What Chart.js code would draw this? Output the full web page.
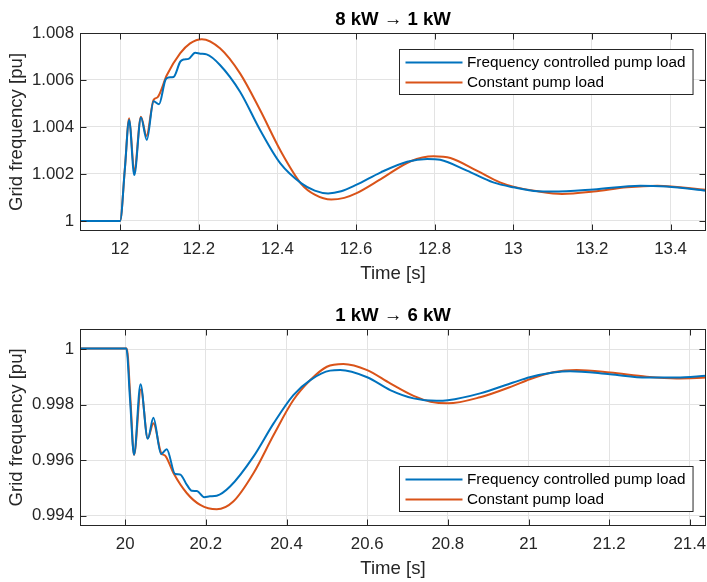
<!DOCTYPE html>
<html>
<head>
<meta charset="utf-8">
<script src="https://cdn.jsdelivr.net/npm/chart.js@4/dist/chart.umd.min.js"></script>
<style>
  body { margin: 0; background: #fff; width: 707px; height: 582px; overflow: hidden; position: relative; }
  canvas { position: absolute; left: 0; }
</style>
</head>
<body>
<canvas id="topChart" width="707" height="296" style="top:0"></canvas>
<canvas id="botChart" width="707" height="286" style="top:296px"></canvas>
<script>
// --- data ---
const seriesNames = ['Frequency controlled pump load', 'Constant pump load'];

// 8 kW -> 1 kW
const topTimeVfd = [11.9, 12.0, 12.012, 12.023, 12.036, 12.053, 12.068, 12.085, 12.099, 12.115, 12.123, 12.136, 12.153, 12.161, 12.174, 12.191, 12.204, 12.22, 12.254, 12.305, 12.356, 12.407, 12.461, 12.495, 12.529, 12.562, 12.6, 12.663, 12.73, 12.781, 12.814, 12.882, 12.949, 13.0, 13.062, 13.1, 13.204, 13.323, 13.39, 13.493];
const topFreqVfd = [1.0, 1.0, 1.0022, 1.0043, 1.00195, 1.0044, 1.00345, 1.0051, 1.00497, 1.0060, 1.00611, 1.00613, 1.00678, 1.00687, 1.0069, 1.00716, 1.00712, 1.00709, 1.00664, 1.0055, 1.00387, 1.00246, 1.0016, 1.00129, 1.00117, 1.00126, 1.00153, 1.00207, 1.00252, 1.00264, 1.0026, 1.00214, 1.00164, 1.00143, 1.00126, 1.00125, 1.00134, 1.0015, 1.00146, 1.00128];
const topTimeConst = [11.9, 12.0, 12.012, 12.023, 12.036, 12.053, 12.067, 12.085, 12.095, 12.119, 12.153, 12.178, 12.208, 12.254, 12.305, 12.356, 12.407, 12.461, 12.495, 12.537, 12.57, 12.6, 12.663, 12.739, 12.797, 12.84, 12.907, 12.966, 13.0, 13.062, 13.124, 13.204, 13.289, 13.366, 13.493];
const topFreqConst = [1.0, 1.0, 1.0022, 1.00437, 1.0021, 1.00444, 1.00362, 1.00515, 1.00526, 1.00621, 1.00714, 1.00756, 1.00774, 1.00735, 1.00628, 1.00472, 1.00302, 1.00157, 1.00112, 1.00091, 1.00098, 1.00117, 1.00178, 1.00254, 1.00275, 1.00268, 1.00214, 1.00164, 1.00146, 1.00126, 1.00115, 1.00125, 1.00143, 1.0015, 1.00132];
const topXTicks = [12, 12.2, 12.4, 12.6, 12.8, 13, 13.2, 13.4];
const topYTicks = [1, 1.002, 1.004, 1.006, 1.008];

// 1 kW -> 6 kW
const botTimeVfd = [19.88, 20.0, 20.003, 20.012, 20.022, 20.038, 20.056, 20.07, 20.089, 20.103, 20.124, 20.136, 20.153, 20.165, 20.178, 20.196, 20.21, 20.227, 20.26, 20.318, 20.368, 20.417, 20.459, 20.508, 20.533, 20.6, 20.657, 20.715, 20.772, 20.8, 20.88, 20.962, 21.003, 21.061, 21.103, 21.202, 21.293, 21.367, 21.442];
const botFreqVfd = [1.00003, 1.00003, 1.00003, 0.9982, 0.9962, 0.99874, 0.99677, 0.99753, 0.99622, 0.9964, 0.9955, 0.99549, 0.99511, 0.9949, 0.99489, 0.99467, 0.9947, 0.99472, 0.99505, 0.99613, 0.99733, 0.99835, 0.99889, 0.99923, 0.99925, 0.99899, 0.99853, 0.99823, 0.99814, 0.99816, 0.99841, 0.9988, 0.99899, 0.99916, 0.99921, 0.9991, 0.99898, 0.99898, 0.99905];
const botTimeConst = [19.88, 20.0, 20.004, 20.013, 20.022, 20.039, 20.056, 20.07, 20.089, 20.1, 20.12, 20.153, 20.186, 20.227, 20.268, 20.318, 20.368, 20.417, 20.459, 20.5, 20.541, 20.6, 20.657, 20.715, 20.757, 20.8, 20.88, 20.962, 21.003, 21.061, 21.119, 21.202, 21.293, 21.367, 21.442];
const botFreqConst = [1.00003, 1.00003, 1.00003, 0.9982, 0.99619, 0.99856, 0.99679, 0.99733, 0.99627, 0.99615, 0.99553, 0.99481, 0.99439, 0.99423, 0.99451, 0.99553, 0.99691, 0.99817, 0.99889, 0.99937, 0.99947, 0.99925, 0.99877, 0.99832, 0.99811, 0.99805, 0.99827, 0.99868, 0.99892, 0.99917, 0.99925, 0.99916, 0.99901, 0.99895, 0.99898];
const botXTicks = [20, 20.2, 20.4, 20.6, 20.8, 21, 21.2, 21.4];
const botYTicks = [0.994, 0.996, 0.998, 1];

const BLUE = '#0072BD', ORANGE = '#D95319';
const AX = '#262626', GRID = '#e3e3e3';
const FONT = '"Liberation Sans", Arial, Helvetica, sans-serif';
const TICK_SIZE = 16.8, LABEL_SIZE = 18.6, LEGEND_SIZE = 15.3;

Chart.defaults.font.family = FONT;
Chart.defaults.font.size = TICK_SIZE;
Chart.defaults.color = AX;

const toXY = (xs, ys) => xs.map((t, i) => ({ x: t, y: ys[i] }));

// box round the axes + inward tick marks (matlab look)
const axesFrame = {
  id: 'axesFrame',
  afterDatasetsDraw(chart) {
    const { ctx, chartArea: a, scales: { x, y } } = chart;
    const L = Math.round(a.left) + 0.5, R = Math.round(a.right) - 0.5;
    const T = Math.round(a.top) + 0.5, B = Math.round(a.bottom) - 0.5;
    ctx.save();
    ctx.strokeStyle = AX;
    ctx.lineWidth = 1;
    ctx.beginPath();
    x.ticks.forEach(t => {
      const px = Math.round(x.getPixelForValue(t.value)) + 0.5;
      ctx.moveTo(px, B); ctx.lineTo(px, B - 6);
      ctx.moveTo(px, T); ctx.lineTo(px, T + 6);
    });
    y.ticks.forEach(t => {
      const py = Math.round(y.getPixelForValue(t.value)) + 0.5;
      ctx.moveTo(L, py); ctx.lineTo(L + 6, py);
      ctx.moveTo(R, py); ctx.lineTo(R - 6, py);
    });
    ctx.stroke();
    ctx.strokeRect(L, T, R - L, B - T);
    ctx.restore();
  }
};

// legend box inside the axes
const boxLegend = {
  id: 'boxLegend',
  afterDraw(chart, args, opts) {
    const { ctx, chartArea: a } = chart;
    const ds = chart.data.datasets;
    ctx.save();
    ctx.font = LEGEND_SIZE + 'px ' + FONT;
    const tw = Math.max(...ds.map(d => ctx.measureText(d.label).width));
    const w = 6 + 57 + 4.5 + tw + 7.5, h = 45;
    const x0 = Math.round(a.right - 13 - w) + 0.5;
    const y0 = Math.round(opts.corner === 'top' ? a.top + 16 : a.bottom - 15 - h) + 0.5;
    ctx.fillStyle = '#fff';
    ctx.fillRect(x0, y0, w, h);
    ctx.strokeStyle = AX;
    ctx.lineWidth = 1;
    ctx.strokeRect(x0, y0, w, h);
    ds.forEach((d, i) => {
      const cy = y0 + 13 + i * 20;
      ctx.strokeStyle = d.borderColor;
      ctx.lineWidth = 2;
      ctx.beginPath();
      ctx.moveTo(x0 + 6, cy); ctx.lineTo(x0 + 63, cy);
      ctx.stroke();
      ctx.fillStyle = '#000';
      ctx.textBaseline = 'middle';
      ctx.fillText(d.label, x0 + 67.5, cy + 0.5);
    });
    ctx.restore();
  }
};

function makeChart(id, title, vfd, cst, xr, yr, xTicks, yTicks, padBottom) {
  const el = document.getElementById(id);
  return new Chart(el, {
    type: 'line',
    data: {
      datasets: [
        { label: seriesNames[0], data: vfd, borderColor: BLUE, borderWidth: 2, pointRadius: 0, cubicInterpolationMode: 'monotone' },
        { label: seriesNames[1], data: cst, borderColor: ORANGE, borderWidth: 2, pointRadius: 0, cubicInterpolationMode: 'monotone' }
      ]
    },
    options: {
      responsive: false,
      animation: false,
      layout: { padding: { left: 0, right: 1, top: 0, bottom: padBottom } },
      plugins: {
        legend: { display: false },
        tooltip: { enabled: false },
        title: { display: true, text: title, fullSize: false, color: '#000', font: { weight: 'bold', size: LABEL_SIZE }, padding: { top: 8.6, bottom: 2.1 } },
        boxLegend: { corner: id === 'topChart' ? 'top' : 'bottom' }
      },
      scales: {
        x: {
          type: 'linear', min: xr[0], max: xr[1],
          afterBuildTicks: s => { s.ticks = xTicks.map(v => ({ value: v })); },
          afterFit: s => { s.height = 54.2; s.paddingLeft = 0; s.paddingRight = 0; },
          ticks: { padding: 8.4, maxRotation: 0, autoSkip: false, callback: v => String(+v.toFixed(1)) },
          grid: { color: GRID, drawTicks: false },
          border: { display: false },
          title: { display: true, text: 'Time [s]', color: AX, font: { size: LABEL_SIZE }, padding: { top: 0, bottom: 0 } }
        },
        y: {
          type: 'linear', min: yr[0], max: yr[1],
          afterBuildTicks: s => { s.ticks = yTicks.map(v => ({ value: v })); },
          afterFit: s => { s.width = 80; },
          ticks: { padding: 6, autoSkip: false, callback: v => String(+v.toFixed(3)) },
          grid: { color: GRID, drawTicks: false },
          border: { display: false },
          title: { display: true, text: 'Grid frequency [pu]', color: AX, font: { size: LABEL_SIZE }, padding: { top: 6, bottom: 0 } }
        }
      }
    },
    plugins: [axesFrame, boxLegend]
  });
}

makeChart('topChart', '8 kW \u2192 1 kW', toXY(topTimeVfd, topFreqVfd), toXY(topTimeConst, topFreqConst),
  [11.898, 13.49], [0.99957, 1.008], topXTicks, topYTicks, 10.8);
makeChart('botChart', '1 kW \u2192 6 kW', toXY(botTimeVfd, botFreqVfd), toXY(botTimeConst, botFreqConst),
  [19.888, 21.44], [0.99364, 1.00073], botXTicks, botYTicks, 2.1);
</script>
</body>
</html>
